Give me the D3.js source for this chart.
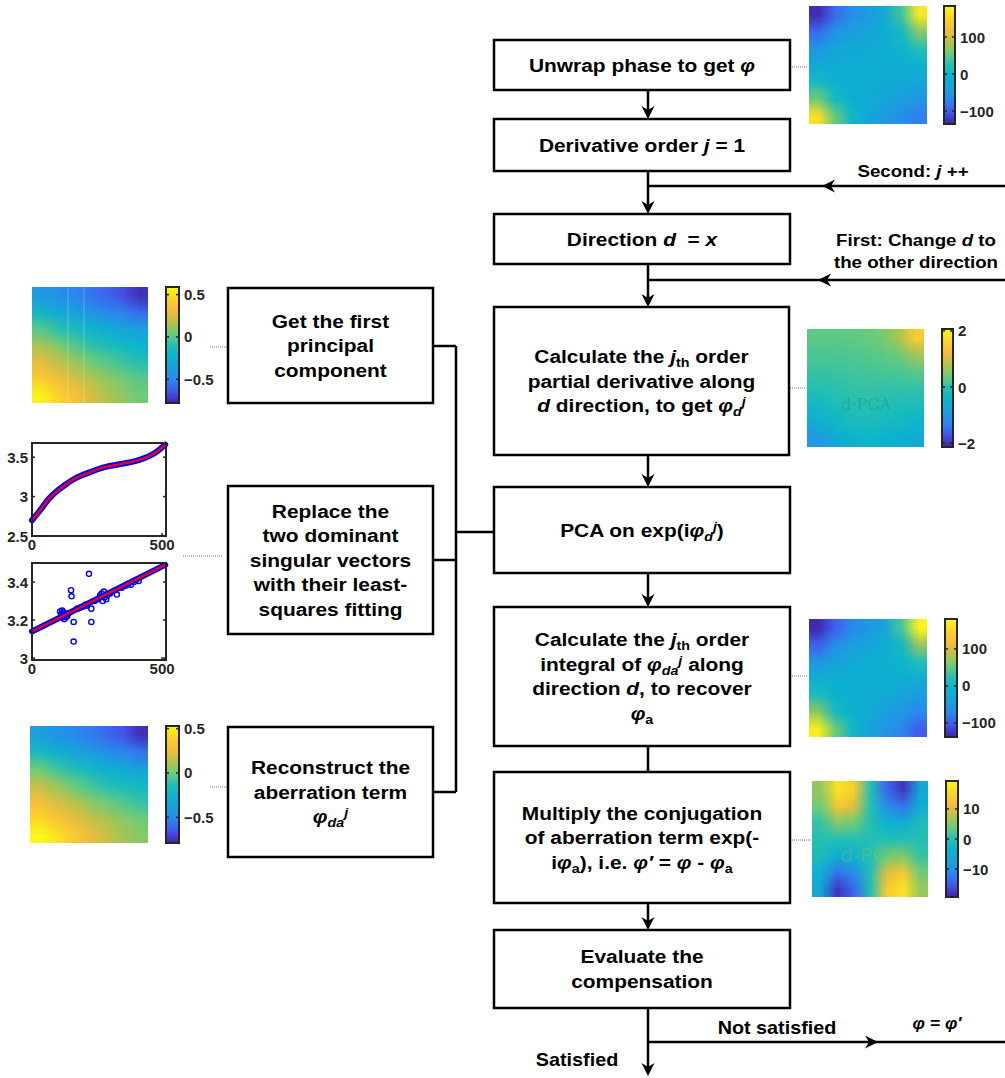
<!DOCTYPE html>
<html>
<head>
<meta charset="utf-8">
<script src="https://cdn.jsdelivr.net/npm/d3@7"></script>
<style>
body{margin:0;background:#fff;}
svg text{font-family:"Liberation Sans",Arial,sans-serif;font-weight:bold;fill:#000;}
</style>
</head>
<body>
<svg id="chart" width="1005" height="1078"></svg>
<script>
// parula colour stops (low -> high)
var parulaStops = ["#3e26a8","#4354ec","#2d86f0","#1aa0de","#0bb3ce","#23bfb4","#6bcc79","#b8c348","#f6bc3d","#fdd428","#f9fb14"];

// heat maps, rows top -> bottom
var phaseGrid = [
	[-130,-90,-60,-45,-20,40,170],
	[-90,-55,-40,-30,-20,10,70],
	[-50,-30,-25,-20,-15,-5,25],
	[-20,-20,-15,-15,-15,-15,-10],
	[10,-10,-15,-15,-20,-25,-30],
	[60,10,-10,-20,-30,-40,-50],
	[160,55,0,-30,-45,-60,-75]];
var phaseRange = [-135,184], phaseTicks = [-100,0,100];

var derivGrid = [
	[0.3,0.3,0.3,0.35,0.45,0.75,1.5],
	[0.2,0.2,0.22,0.25,0.3,0.4,0.7],
	[0.1,0.1,0.12,0.15,0.18,0.2,0.3],
	[-0.05,0.0,0.05,0.08,0.05,0.05,0.05],
	[-0.3,-0.15,-0.05,0.0,-0.05,-0.1,-0.15],
	[-0.6,-0.4,-0.2,-0.15,-0.2,-0.3,-0.4],
	[-1.0,-0.75,-0.5,-0.4,-0.45,-0.55,-0.65]];
var derivRange = [-2.14,2.07], derivTicks = [-2,0,2];

var integGrid = [
	[-135,-100,-70,-50,-30,40,175],
	[-100,-65,-45,-35,-20,5,75],
	[-55,-35,-25,-20,-15,-5,20],
	[-20,-20,-15,-15,-15,-20,-20],
	[15,-10,-15,-20,-25,-35,-45],
	[70,10,-10,-25,-40,-55,-70],
	[170,55,0,-35,-55,-75,-100]];
var integRange = [-138,181], integTicks = [-100,0,100];

var conjGrid = [
	[6,17,14,0,-14,-18,-6],
	[4,13,10,0,-10,-13,-4],
	[1,5,4,0,-4,-5,-1],
	[0,0,0,0,0,0,0],
	[-1,-5,-4,0,4,5,1],
	[-4,-13,-10,0,10,13,4],
	[-6,-18,-14,0,14,17,6]];
var conjRange = [-19.3,19.3], conjTicks = [-10,0,10];

var pcGrid = [
	[-0.4,-0.45,-0.5,-0.55,-0.6,-0.66,-0.75],
	[-0.2,-0.28,-0.35,-0.42,-0.48,-0.52,-0.58],
	[0.0,-0.08,-0.15,-0.22,-0.28,-0.33,-0.38],
	[0.15,0.08,0.0,-0.07,-0.13,-0.18,-0.22],
	[0.28,0.2,0.13,0.06,0.0,-0.05,-0.1],
	[0.4,0.32,0.24,0.17,0.1,0.05,0.0],
	[0.57,0.45,0.35,0.25,0.17,0.1,0.05]];
var pcRange = [-0.78,0.59], pcTicks = [-0.5,0,0.5];

var recGrid = [
	[-0.4,-0.45,-0.5,-0.55,-0.6,-0.66,-0.76],
	[-0.2,-0.28,-0.35,-0.42,-0.48,-0.52,-0.58],
	[0.0,-0.08,-0.15,-0.22,-0.28,-0.33,-0.38],
	[0.15,0.08,0.0,-0.07,-0.13,-0.18,-0.22],
	[0.28,0.2,0.13,0.06,0.0,-0.05,-0.1],
	[0.4,0.32,0.24,0.17,0.1,0.05,0.0],
	[0.53,0.45,0.35,0.25,0.17,0.1,0.05]];
var recRange = [-0.79,0.53], recTicks = [-0.5,0,0.5];

// singular vector plots
var curveX = [0,32,64,96,128,160,192,224,256,288,320,352,384,416,448,480,512];
var curveY = [2.70,2.83,2.97,3.07,3.15,3.22,3.27,3.31,3.35,3.38,3.40,3.42,3.44,3.47,3.51,3.57,3.66];
var curveTicks = [2.5,3,3.5];
var fitX = [0,512];
var fitY = [3.14,3.49];
var scatX = [108,112,116,118,121,124,127,130,135,140,150,152,160,160,175,185,195,205,210,219,228,228,240,255,262,268,272,276,280,285,290,300,326,345,360,370,380,392,400,410];
var scatY = [3.245,3.23,3.25,3.215,3.24,3.205,3.23,3.215,3.22,3.235,3.357,3.325,3.19,3.087,3.26,3.265,3.27,3.28,3.275,3.443,3.26,3.19,3.30,3.31,3.33,3.34,3.30,3.35,3.32,3.31,3.33,3.34,3.334,3.37,3.38,3.39,3.385,3.40,3.41,3.405];
var fitTicks = [3,3.2,3.4];
var xTicks = [0,500];

var svg = d3.select("#chart");
var defs = svg.append("defs");
var fmt = d3.format("");
var SX = 1.1; // the original lettering is a little wider than Arial

//heat map + colour bar
function drawHeatmap(id, grid, range, ticks, hx, hy, hw, hh, cbx, cbw){
	var nr = grid.length, nc = grid[0].length;
	var color = d3.scaleLinear()
		.domain(parulaStops.map(function(d,i){ return range[0]+(range[1]-range[0])*i/(parulaStops.length-1); }))
		.range(parulaStops).clamp(true);
	// one pixel per cell, the browser smooths it when scaling up
	var cv = document.createElement("canvas");
	cv.width = nc; cv.height = nr;
	var ctx = cv.getContext("2d");
	var img = ctx.createImageData(nc, nr);
	grid.forEach(function(row,r){
		row.forEach(function(v,c){
			var rgb = d3.rgb(color(v)), k = (r*nc+c)*4;
			img.data[k] = rgb.r; img.data[k+1] = rgb.g; img.data[k+2] = rgb.b; img.data[k+3] = 255;
		});
	});
	ctx.putImageData(img, 0, 0);
	svg.append("image")
		.attr("href", cv.toDataURL())
		.attr("x",hx).attr("y",hy).attr("width",hw).attr("height",hh)
		.attr("preserveAspectRatio","none")
		.style("image-rendering","auto");

	var cy = d3.scaleLinear().domain(range).range([hy+hh,hy]);
	var grad = defs.append("linearGradient").attr("id","grad-"+id)
		.attr("x1",0).attr("y1",1).attr("x2",0).attr("y2",0);
	grad.selectAll("stop").data(parulaStops).enter().append("stop")
		.attr("offset",function(d,i){ return i/(parulaStops.length-1); })
		.attr("stop-color",function(d){ return d; });
	svg.append("rect").attr("x",cbx).attr("y",hy).attr("width",cbw).attr("height",hh)
		.attr("fill","url(#grad-"+id+")").attr("stroke","#262626").attr("stroke-width",2);
	var tg = svg.append("g");
	tg.selectAll("line.l").data(ticks).enter().append("line")
		.attr("x1",cbx).attr("x2",cbx+3)
		.attr("y1",function(d){ return cy(d); }).attr("y2",function(d){ return cy(d); })
		.attr("stroke","#262626").attr("stroke-width",1.5);
	tg.selectAll("line.r").data(ticks).enter().append("line")
		.attr("x1",cbx+cbw-3).attr("x2",cbx+cbw)
		.attr("y1",function(d){ return cy(d); }).attr("y2",function(d){ return cy(d); })
		.attr("stroke","#262626").attr("stroke-width",1.5);
	tg.selectAll("text").data(ticks).enter().append("text")
		.attr("x",cbx+cbw+5)
		.attr("y",function(d){ return cy(d)+5.5; })
		.style("font-size","15px").style("fill","#262626")
		.text(function(d){ return fmt(d); });
}

drawHeatmap("phase", phaseGrid, phaseRange, phaseTicks, 809, 6, 118, 118, 944, 11);
drawHeatmap("deriv", derivGrid, derivRange, derivTicks, 807, 329, 117, 118, 942, 11);
drawHeatmap("integ", integGrid, integRange, integTicks, 809, 619, 118, 118, 945, 12);
drawHeatmap("conj", conjGrid, conjRange, conjTicks, 812, 781, 116, 116, 946, 12);
drawHeatmap("pc", pcGrid, pcRange, pcTicks, 32, 287, 116, 116, 166, 13);
drawHeatmap("rec", recGrid, recRange, recTicks, 30, 726, 118, 117, 166, 13);

// faint artefacts on the principal component map
svg.selectAll("line.art").data([68,84]).enter().append("line")
	.attr("x1",function(d){ return d; }).attr("x2",function(d){ return d; })
	.attr("y1",287).attr("y2",403)
	.attr("stroke","#fff").attr("stroke-opacity",0.22).attr("stroke-width",1.2);
// watermarks
svg.append("text").attr("x",866).attr("y",410).attr("text-anchor","middle")
	.style("font-family","'DejaVu Serif',serif").style("font-weight","normal")
	.style("font-size","16px").style("fill","#147a8a").style("fill-opacity",0.3).text("d·PCA");
svg.append("text").attr("x",870).attr("y",862).attr("text-anchor","middle")
	.style("font-family","'DejaVu Sans',sans-serif").style("font-weight","normal")
	.style("font-size","20px").style("fill","#b8c040").style("fill-opacity",0.25).text("d-PCA");

//line plots
function drawPlot(px, py, pw, ph, yDom, yTicks){
	var x = d3.scaleLinear().domain([0,515]).range([px,px+pw]);
	var y = d3.scaleLinear().domain(yDom).range([py+ph,py]);
	var g = svg.append("g");
	g.selectAll("text.y").data(yTicks).enter().append("text")
		.attr("x",px-4).attr("y",function(d){ return y(d)+5.5; })
		.attr("text-anchor","end").style("font-size","15px").style("fill","#262626")
		.text(function(d){ return fmt(d); });
	g.selectAll("text.x").data(xTicks).enter().append("text")
		.attr("x",function(d){ return x(d); }).attr("y",py+ph+14)
		.attr("text-anchor","middle").style("font-size","15px").style("fill","#262626")
		.text(function(d){ return fmt(d); });
	yTicks.forEach(function(t){
		g.append("line").attr("x1",px).attr("x2",px+3).attr("y1",y(t)).attr("y2",y(t)).attr("stroke","#262626").attr("stroke-width",1.5);
		g.append("line").attr("x1",px+pw-3).attr("x2",px+pw).attr("y1",y(t)).attr("y2",y(t)).attr("stroke","#262626").attr("stroke-width",1.5);
	});
	xTicks.forEach(function(t){
		g.append("line").attr("x1",x(t)).attr("x2",x(t)).attr("y1",py+ph).attr("y2",py+ph-3).attr("stroke","#262626").attr("stroke-width",1.5);
		g.append("line").attr("x1",x(t)).attr("x2",x(t)).attr("y1",py).attr("y2",py+3).attr("stroke","#262626").attr("stroke-width",1.5);
	});
	return {x:x, y:y, g:g, box:function(){
		g.append("rect").attr("x",px).attr("y",py).attr("width",pw).attr("height",ph)
			.attr("fill","none").attr("stroke","#262626").attr("stroke-width",2);
	}};
}

var p1 = drawPlot(32, 443, 134, 93, [2.5,3.68], curveTicks);
var line1 = d3.line().x(function(d){ return p1.x(d[0]); }).y(function(d){ return p1.y(d[1]); }).curve(d3.curveMonotoneX);
var pts1 = curveX.map(function(d,i){ return [d, curveY[i]]; });
p1.g.append("path").attr("d",line1(pts1)).attr("fill","none").attr("stroke","#0000ff").attr("stroke-width",6).attr("stroke-linecap","round");
p1.g.append("path").attr("d",line1(pts1)).attr("fill","none").attr("stroke","#ff0000").attr("stroke-width",2.2);
p1.box();

var p2 = drawPlot(32, 563, 134, 97, [2.99,3.5], fitTicks);
p2.g.selectAll("circle").data(scatX).enter().append("circle")
	.attr("cx",function(d){ return p2.x(d); })
	.attr("cy",function(d,i){ return p2.y(scatY[i]); })
	.attr("r",2.6).attr("fill","none").attr("stroke","#0000ff").attr("stroke-width",1.4);
var line2 = d3.line().x(function(d){ return p2.x(d[0]); }).y(function(d){ return p2.y(d[1]); });
var pts2 = fitX.map(function(d,i){ return [d, fitY[i]]; });
p2.g.append("path").attr("d",line2(pts2)).attr("fill","none").attr("stroke","#0000ff").attr("stroke-width",6).attr("stroke-linecap","round");
p2.g.append("path").attr("d",line2(pts2)).attr("fill","none").attr("stroke","#ff0000").attr("stroke-width",2.2);
p2.box();

// dotted leaders
var leaders = [[790,808,67],[788,806,388],[790,808,676],[790,811,840],[210,227,347],[183,222,556],[210,227,787]];
svg.selectAll("line.lead").data(leaders).enter().append("line")
	.attr("x1",function(d){ return d[0]; }).attr("x2",function(d){ return d[1]; })
	.attr("y1",function(d){ return d[2]; }).attr("y2",function(d){ return d[2]; })
	.attr("stroke","#777").attr("stroke-width",1).attr("stroke-dasharray","1,1");

// flow boxes: [x, y, w, h, lines]
var boxes = [
	[494,40,296,50,[[["Unwrap phase to get ",""],["φ","i"]]]],
	[494,119,296,52,[[["Derivative order ",""],["j","i"],[" = 1",""]]]],
	[494,214,296,50,[[["Direction ",""],["d","i"],["\u00a0 = ",""],["x","i"]]]],
	[494,307,295,148,[[["Calculate the ",""],["j","i"],["th","sub"],[" order",""]],[["partial derivative along",""]],[["d","i"],[" direction, to get ",""],["φ","i"],["d","isub"],["j","isup"]]]],
	[494,487,296,86,[[["PCA on exp(i",""],["φ","i"],["d","isub"],["j","isup"],[")",""]]]],
	[494,607,296,139,[[["Calculate the ",""],["j","i"],["th","sub"],[" order",""]],[["integral of ",""],["φ","i"],["da","isub"],["j","isup"],[" along",""]],[["direction ",""],["d","i"],[", to recover",""]],[["φ","i"],["a","sub"]]]],
	[494,772,296,131,[[["Multiply the conjugation",""]],[["of aberration term exp(-",""]],[["i",""],["φ","i"],["a","sub"],["), i.e. ",""],["φ′","i"],[" = ",""],["φ","i"],[" - ",""],["φ","i"],["a","sub"]]]],
	[494,930,296,78,[[["Evaluate the",""]],[["compensation",""]]]],
	[228,288,205,115,[[["Get the first",""]],[["principal",""]],[["component",""]]]],
	[228,486,205,148,[[["Replace the",""]],[["two dominant",""]],[["singular vectors",""]],[["with their least-",""]],[["squares fitting",""]]]],
	[228,727,205,130,[[["Reconstruct the",""]],[["aberration term",""]],[["φ","i"],["da","isub"],["j","isup"]]]]
];

svg.selectAll("rect.box").data(boxes).enter().append("rect")
	.attr("x",function(d){ return d[0]; }).attr("y",function(d){ return d[1]; })
	.attr("width",function(d){ return d[2]; }).attr("height",function(d){ return d[3]; })
	.attr("fill","#fff").attr("stroke","#000").attr("stroke-width",2.5);

var shifts = {"":0, i:0, sub:4, isub:4, isup:-6};
function writeLine(x, y, segs, size){
	var t = svg.append("text").attr("x",0).attr("y",0)
		.attr("transform","translate("+x+","+y+") scale("+SX+",1)")
		.attr("text-anchor","middle").style("font-size",size+"px");
	var cur = 0;
	segs.forEach(function(s){
		var k = s[1];
		var sp = t.append("tspan").text(s[0]).attr("dy",shifts[k]-cur);
		cur = shifts[k];
		if(k=="i"||k=="isub"||k=="isup") sp.style("font-style","italic");
		if(k=="sub"||k=="isub"||k=="isup") sp.style("font-size",(size-6)+"px");
	});
}
boxes.forEach(function(b){
	var n = b[4].length, lh = 24.5;
	var cx = b[0]+b[2]/2, cy = b[1]+b[3]/2;
	b[4].forEach(function(l,i){
		writeLine(cx, cy+(i-(n-1)/2)*lh+6.5, l, 19);
	});
});

// connectors
function seg(x1,y1,x2,y2){
	svg.append("line").attr("x1",x1).attr("y1",y1).attr("x2",x2).attr("y2",y2)
		.attr("stroke","#000").attr("stroke-width",2.5);
}
function head(x,y,ang){
	svg.append("path").attr("d","M0,0 L-13,-6.5 L-9,0 L-13,6.5 Z")
		.attr("transform","translate("+x+","+y+") rotate("+ang+")").attr("fill","#000");
}
var cx0 = 648;
var flow = [[90,119,1],[171,214,1],[264,307,1],[455,487,1],[573,607,1],[746,772,0],[903,930,1],[1008,1076,1]];
flow.forEach(function(f){
	seg(cx0,f[0],cx0,f[1]-(f[2]?4:0));
	if(f[2]) head(cx0,f[1],90);
});
seg(cx0,186,1005,186); head(822,186,180);
seg(cx0,280,1005,280); head(818,280,180);
seg(cx0,1042,1005,1042); head(878,1042,0);

// left-hand branch
seg(433,346,456,346);
seg(433,560,456,560);
seg(433,792,456,792);
seg(456,346,456,792);
seg(456,532,494,532);

// labels on the loop-backs
writeLine(913,177,[["Second: ",""],["j","i"],[" ++",""]],17);
writeLine(916,246,[["First: Change ",""],["d","i"],[" to",""]],17);
writeLine(916,268,[["the other direction",""]],17);
writeLine(777,1034,[["Not satisfied",""]],18);
writeLine(937,1029,[["φ = φ′","i"]],16);
writeLine(577,1066,[["Satisfied",""]],18);
</script>
</body>
</html>
